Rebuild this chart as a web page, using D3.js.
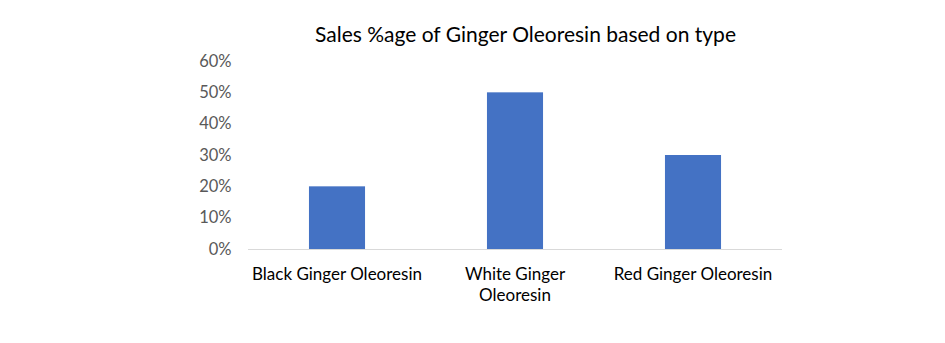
<!DOCTYPE html>
<html>
<head>
<meta charset="utf-8">
<script src="https://cdn.jsdelivr.net/npm/d3@7"></script>
<style>
  html, body { margin: 0; padding: 0; background: #ffffff; }
  svg { display: block; font-family: Lato, "Open Sans", sans-serif; }
</style>
</head>
<body>
<svg id="chart" width="945" height="343"></svg>
<script>
// Sales share by oleoresin type
const categories = ["Black Ginger Oleoresin", "White Ginger Oleoresin", "Red Ginger Oleoresin"];
const categoryLines = [["Black Ginger Oleoresin"], ["White Ginger", "Oleoresin"], ["Red Ginger Oleoresin"]];
const salesShare = [0.20, 0.50, 0.30];
const yTicks = [0, 0.1, 0.2, 0.3, 0.4, 0.5, 0.6];
const chartTitle = "Sales %age of Ginger Oleoresin based on type";

const svg = d3.select("#chart");
const plot = { left: 248, right: 782, top: 61, bottom: 249 };

const x = d3.scaleBand()
  .domain(categories)
  .range([plot.left, plot.right])
  .paddingInner(0.685)
  .paddingOuter(0.3425);

const y = d3.scaleLinear().domain([0, 0.6]).range([plot.bottom, plot.top]);

// Title
svg.append("text")
  .attr("x", 525.5).attr("y", 42)
  .attr("text-anchor", "middle")
  .attr("font-size", 21)
  .attr("fill", "#000000")
  .text(chartTitle);

// Y axis labels (no axis line)
const yAxis = svg.append("g")
  .attr("transform", `translate(${plot.left},0)`)
  .call(d3.axisLeft(y).tickValues(yTicks).tickFormat(d3.format(".0%")).tickSize(0).tickPadding(16.5));
yAxis.select(".domain").remove();
yAxis.selectAll("text")
  .attr("font-family", "Lato, 'Open Sans', sans-serif")
  .attr("font-size", 16.5)
  .attr("fill", "#595959");

// Bars
svg.append("g").selectAll("rect")
  .data(salesShare)
  .join("rect")
  .attr("x", (d, i) => x(categories[i]))
  .attr("y", d => y(d))
  .attr("width", x.bandwidth())
  .attr("height", d => y(0) - y(d))
  .attr("fill", "#4472C4");

// Baseline
svg.append("line")
  .attr("x1", plot.left).attr("x2", plot.right)
  .attr("y1", y(0) + 0.5).attr("y2", y(0) + 0.5)
  .attr("stroke", "#d9d9d9")
  .attr("stroke-width", 1);

// Category labels
const labels = svg.append("g").selectAll("text")
  .data(categories)
  .join("text")
  .attr("text-anchor", "middle")
  .attr("font-size", 17)
  .attr("fill", "#000000")
  .attr("transform", d => `translate(${x(d) + x.bandwidth() / 2},0)`);

labels.each(function (d, i) {
  d3.select(this).selectAll("tspan")
    .data(categoryLines[i])
    .join("tspan")
    .attr("x", 0)
    .attr("y", (t, j) => 280 + j * 21)
    .text(t => t);
});
</script>
</body>
</html>
